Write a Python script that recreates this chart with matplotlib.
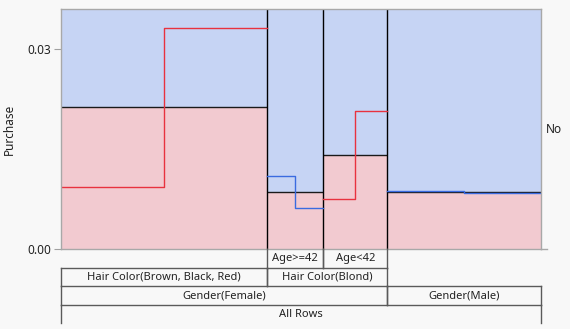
import matplotlib
matplotlib.use("Agg")
import matplotlib.pyplot as plt
import numpy as np

# leaf partitions, left to right
leaf_names = ["Brown, Black, Red", "Age>=42", "Age<42", "Male"]
leaf_share = [0.429, 0.117, 0.133, 0.321]
leaf_rate = [0.0213, 0.00855, 0.0141, 0.00855]

# candidate split preview inside each leaf (two levels, split at the middle)
cand_left = [0.0093, 0.01095, 0.0075, 0.0087]
cand_right = [0.0332, 0.00615, 0.0207, 0.00845]
cand_color = ["#e8323f", "#3a6be0", "#e8323f", "#3a6be0"]

# tree labels under the plot: (first leaf, last leaf + 1, text) per level
tree_rows = [
    [(1, 2, "Age>=42"), (2, 3, "Age<42")],
    [(0, 1, "Hair Color(Brown, Black, Red)"), (1, 3, "Hair Color(Blond)")],
    [(0, 3, "Gender(Female)"), (3, 4, "Gender(Male)")],
    [(0, 4, "All Rows")],
]

y_ticks = [0.0, 0.03]
y_max = 0.036

BG = "#f8f8f8"
BLUE = "#c6d4f4"
PINK = "#f2cad0"
GRID = "#5a5a5a"
TEXT = "#222222"
plt.rcParams["font.family"] = ["Noto Sans", "DejaVu Sans"]

fig = plt.figure(figsize=(5.7, 3.29), dpi=100, facecolor=BG)
ax = fig.add_axes([0.1075, 0.2422, 0.8421, 0.7295])
ax.set_facecolor(BG)

edges = np.concatenate([[0], np.cumsum(leaf_share)])
edges = edges / edges[-1]
widths = np.diff(edges)

ax.bar(edges[:-1], leaf_rate, width=widths, align="edge", color=PINK, linewidth=0)
ax.bar(edges[:-1], y_max - np.array(leaf_rate), bottom=leaf_rate, width=widths,
       align="edge", color=BLUE, linewidth=0)
ax.hlines(leaf_rate, edges[:-1], edges[1:], color="#1a1a1a", linewidth=1)
ax.vlines(edges[1:-1], 0, y_max, color="black", linewidth=1)

for i in range(len(leaf_share)):
    mid = edges[i] + widths[i] / 2
    ax.step([edges[i], mid, edges[i + 1]],
            [cand_left[i], cand_right[i], cand_right[i]],
            where="post", color=cand_color[i], linewidth=1)

ax.set_xlim(0, 1)
ax.set_ylim(0, y_max)
ax.set_xticks([])
ax.set_yticks(y_ticks)
ax.set_yticklabels(["%.2f" % v for v in y_ticks])
ax.tick_params(axis="y", length=5, color="#a0a0a0", labelsize=8.5, labelcolor=TEXT, pad=2)
for s in ax.spines.values():
    s.set_color("#a8a8a8")
    s.set_linewidth(1)
ax.set_ylabel("Purchase", fontsize=8.5, color=TEXT)
ax.yaxis.set_label_coords(-0.094, 0.5)
ax.plot([1, 1.012], [0, 0], color="#a8a8a8", linewidth=1, clip_on=False)
ax.text(1.009, 0.5, "No", transform=ax.transAxes, fontsize=8.5, color=TEXT,
        ha="left", va="center")

# tree of split labels
tax = fig.add_axes([0.1075, 0.0173, 0.8421, 0.2249])
tax.set_xlim(0, 1)
tax.set_ylim(len(tree_rows), 0)
tax.axis("off")
for r, cells in enumerate(tree_rows):
    for a, b, label in cells:
        x0, x1 = edges[a], edges[b]
        if r > 0:
            tax.plot([x0, x1], [r, r], color=GRID, linewidth=1, clip_on=False)
        tax.plot([x0, x0], [r, r + 1], color=GRID, linewidth=1, clip_on=False)
        tax.plot([x1, x1], [r, r + 1], color=GRID, linewidth=1, clip_on=False)
        tax.text((x0 + x1) / 2, r + 0.5, label, ha="center", va="center",
                 fontsize=8, color=TEXT)

fig.savefig("out.png", dpi=100, facecolor=BG)
